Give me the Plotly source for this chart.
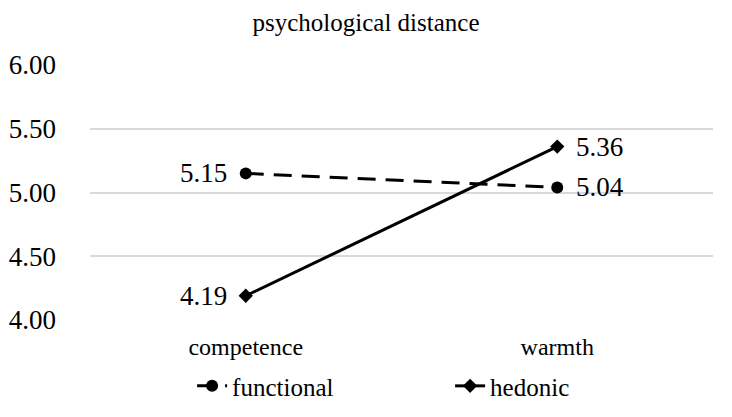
import plotly.graph_objects as go

categories = ["competence", "warmth"]
functional = [5.15, 5.04]
hedonic = [4.19, 5.36]
y_ticks = [4.0, 4.5, 5.0, 5.5, 6.0]
title_text = "psychological distance"

FONT = "Liberation Serif"
NUM_SIZE = 27

fig = go.Figure()
fig.add_trace(go.Scatter(
    x=categories, y=functional, name="functional",
    mode="lines+markers", cliponaxis=False,
    line=dict(color="black", width=3, dash="18px,10px"),
    marker=dict(symbol="circle", size=12, color="black"),
))
fig.add_trace(go.Scatter(
    x=categories, y=hedonic, name="hedonic",
    mode="lines+markers", cliponaxis=False,
    line=dict(color="black", width=3),
    marker=dict(symbol="diamond", size=11, color="black"),
))

# data labels: left of first category, right of second
for series in (functional, hedonic):
    for i, (cat, v) in enumerate(zip(categories, series)):
        left = (i == 0)
        fig.add_annotation(
            x=cat, y=v, text=f"{v:.2f}", showarrow=False,
            xanchor="right" if left else "left", yanchor="middle",
            xshift=-17 if left else 17,
            font=dict(family=FONT, size=NUM_SIZE, color="black"),
        )

fig.update_layout(
    width=732, height=417,
    margin=dict(l=90, r=19, t=65, b=97, autoexpand=False),
    paper_bgcolor="white", plot_bgcolor="white",
    font=dict(family=FONT, size=24, color="black"),
    title=dict(text=title_text, x=0.5, xanchor="center", y=0.947, yanchor="middle",
               font=dict(family=FONT, size=25, color="black")),
    showlegend=True,
    legend=dict(orientation="h", x=0.578, xanchor="center", y=-0.169, yanchor="top",
                font=dict(family=FONT, size=25, color="black"),
                itemwidth=30, entrywidth=213, entrywidthmode="pixels",
                tracegroupgap=0),
    xaxis=dict(range=[-0.5, 1.5], showgrid=False, showline=False, ticks="", zeroline=False,
               ticklabelstandoff=10,
               tickfont=dict(family=FONT, size=24, color="black")),
    yaxis=dict(range=[4.0, 6.0], tickvals=y_ticks, tickformat=".2f",
               showgrid=True, gridcolor="#d9d9d9", gridwidth=1.5,
               zeroline=False, showline=False, ticks="",
               ticklabelstandoff=33,
               tickfont=dict(family=FONT, size=NUM_SIZE, color="black")),
)

fig.write_html("out.html")
